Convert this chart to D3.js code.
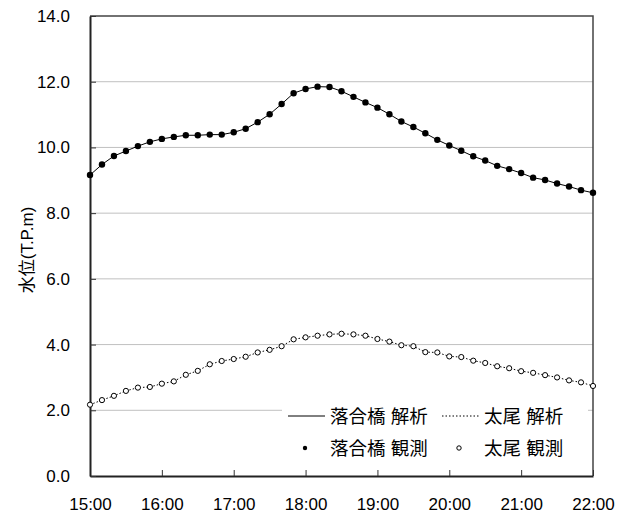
<!DOCTYPE html>
<html>
<head>
<meta charset="utf-8">
<script src="https://cdn.jsdelivr.net/npm/d3@7"></script>
<style>
  body { margin: 0; background: #fff; }
  text { font-family: "Liberation Sans", Arial, "Noto Sans CJK JP", sans-serif; fill: #000; }
</style>
</head>
<body>
<script>
// 10-minute steps, 15:00 - 22:00
var times = ["15:00","15:10","15:20","15:30","15:40","15:50",
  "16:00","16:10","16:20","16:30","16:40","16:50",
  "17:00","17:10","17:20","17:30","17:40","17:50",
  "18:00","18:10","18:20","18:30","18:40","18:50",
  "19:00","19:10","19:20","19:30","19:40","19:50",
  "20:00","20:10","20:20","20:30","20:40","20:50",
  "21:00","21:10","21:20","21:30","21:40","21:50","22:00"];

// 落合橋
var ochiaiObs = [9.16,9.48,9.74,9.89,10.04,10.17,10.26,10.32,10.37,10.37,10.39,10.39,
  10.46,10.57,10.77,11.01,11.32,11.65,11.78,11.85,11.84,11.71,11.54,11.37,11.21,11.01,
  10.79,10.62,10.43,10.23,10.06,9.90,9.73,9.60,9.44,9.34,9.22,9.08,9.01,8.90,8.81,8.70,8.62];
var ochiaiCalc = [9.16,9.48,9.74,9.89,10.04,10.17,10.26,10.32,10.37,10.37,10.39,10.39,
  10.46,10.57,10.77,11.01,11.32,11.65,11.78,11.85,11.84,11.71,11.54,11.37,11.21,11.01,
  10.79,10.62,10.43,10.23,10.06,9.90,9.73,9.60,9.44,9.34,9.22,9.08,9.01,8.90,8.81,8.70,8.62];

// 太尾
var futoObs = [2.17,2.31,2.44,2.59,2.69,2.71,2.81,2.88,3.08,3.20,3.40,3.50,
  3.56,3.63,3.76,3.84,3.95,4.16,4.22,4.27,4.31,4.33,4.31,4.27,4.17,4.09,
  3.98,3.95,3.77,3.76,3.64,3.62,3.51,3.44,3.34,3.28,3.19,3.14,3.07,3.00,2.91,2.85,2.74];
var futoCalc = [2.17,2.31,2.44,2.59,2.69,2.71,2.81,2.88,3.08,3.20,3.40,3.50,
  3.56,3.63,3.76,3.84,3.95,4.16,4.22,4.27,4.31,4.33,4.31,4.27,4.17,4.09,
  3.98,3.95,3.77,3.76,3.64,3.62,3.51,3.44,3.34,3.28,3.19,3.14,3.07,3.00,2.91,2.85,2.74];

var xTickLabels = ["15:00","16:00","17:00","18:00","19:00","20:00","21:00","22:00"];
var yTicks = [0,2,4,6,8,10,12,14];

var W = 628, H = 517;
var margin = {top: 16, right: 35, bottom: 41, left: 90},
    width = W - margin.left - margin.right,
    height = H - margin.top - margin.bottom;

function hours(t) {
  var p = t.split(":");
  return +p[0] + p[1] / 60;
}

var svg = d3.select("body").append("svg")
    .attr("width", W)
    .attr("height", H);

var g = svg.append("g")
    .attr("transform", "translate(" + margin.left + "," + margin.top + ")");

var x = d3.scaleLinear()
    .domain([hours(xTickLabels[0]), hours(xTickLabels[xTickLabels.length - 1])])
    .range([0, width]);

var y = d3.scaleLinear()
    .domain([0, 14])
    .range([height, 0]);

// grid
g.append("g").selectAll("line")
    .data(yTicks.filter(function(d) { return d > 0 && d < 14; }))
  .enter().append("line")
    .attr("x1", 0).attr("x2", width)
    .attr("y1", function(d) { return y(d); })
    .attr("y2", function(d) { return y(d); })
    .attr("stroke", "#c0c0c0")
    .attr("stroke-width", 1);

// frame (top/right)
g.append("path")
    .attr("d", "M0,0H" + width + "V" + height)
    .attr("fill", "none")
    .attr("stroke", "#444")
    .attr("stroke-width", 1.5);

var xAxis = g.append("g")
    .attr("transform", "translate(0," + height + ")")
    .call(d3.axisBottom(x)
      .tickValues(xTickLabels.map(hours))
      .tickFormat(function(d, i) { return xTickLabels[i]; })
      .tickSize(-6)
      .tickSizeOuter(0)
      .tickPadding(22));

var yAxis = g.append("g")
    .call(d3.axisLeft(y)
      .tickValues(yTicks)
      .tickFormat(function(d) { return d.toFixed(1); })
      .tickSize(-6)
      .tickSizeOuter(0)
      .tickPadding(20));

[xAxis, yAxis].forEach(function(a) {
  a.select(".domain").attr("stroke", "#222").attr("stroke-width", 2);
  a.selectAll(".tick line").attr("stroke", "#333");
  a.selectAll(".tick text").style("font-size", "17px");
});

svg.append("text")
    .attr("transform", "translate(27," + (margin.top + height / 2 + 4) + ") rotate(-90)")
    .attr("text-anchor", "middle")
    .attr("dy", "0.35em")
    .style("font-size", "17px")
    .text("水位(T.P.m)");

var line = d3.line()
    .x(function(d, i) { return x(hours(times[i])); })
    .y(function(d) { return y(d); });

g.append("path")
    .datum(futoCalc)
    .attr("d", line)
    .attr("fill", "none")
    .attr("stroke", "#000")
    .attr("stroke-width", 1)
    .attr("stroke-dasharray", "1.5,2");

g.append("path")
    .datum(ochiaiCalc)
    .attr("d", line)
    .attr("fill", "none")
    .attr("stroke", "#000")
    .attr("stroke-width", 1);

g.append("g").selectAll("circle")
    .data(futoObs)
  .enter().append("circle")
    .attr("cx", function(d, i) { return x(hours(times[i])); })
    .attr("cy", function(d) { return y(d); })
    .attr("r", 2.6)
    .attr("fill", "#fff")
    .attr("stroke", "#000")
    .attr("stroke-width", 1);

g.append("g").selectAll("circle")
    .data(ochiaiObs)
  .enter().append("circle")
    .attr("cx", function(d, i) { return x(hours(times[i])); })
    .attr("cy", function(d) { return y(d); })
    .attr("r", 3.2)
    .attr("fill", "#000");

// legend
var legend = svg.append("g");
legend.append("rect")
    .attr("x", 282).attr("y", 398)
    .attr("width", 306).attr("height", 66)
    .attr("fill", "#fff");

var items = [
  {label: "落合橋 解析", type: "solid", x: 288, y: 416},
  {label: "太尾 解析", type: "dotted", x: 442, y: 416},
  {label: "落合橋 観測", type: "dot", x: 288, y: 448},
  {label: "太尾 観測", type: "ring", x: 442, y: 448}
];

items.forEach(function(it) {
  var li = legend.append("g").attr("transform", "translate(" + it.x + "," + it.y + ")");
  if (it.type === "solid" || it.type === "dotted") {
    li.append("line")
      .attr("x1", 0).attr("x2", 37)
      .attr("y1", 0).attr("y2", 0)
      .attr("stroke", "#000")
      .attr("stroke-width", 1)
      .attr("stroke-dasharray", it.type === "dotted" ? "1.5,2" : null);
  } else if (it.type === "dot") {
    li.append("circle").attr("cx", 17).attr("cy", 0).attr("r", 2.2).attr("fill", "#000");
  } else {
    li.append("circle").attr("cx", 17).attr("cy", 0).attr("r", 2.2)
      .attr("fill", "#fff").attr("stroke", "#000").attr("stroke-width", 1);
  }
  li.append("text")
    .attr("x", 42)
    .attr("dy", "0.36em")
    .style("font-size", "18.5px")
    .text(it.label);
});
</script>
</body>
</html>
